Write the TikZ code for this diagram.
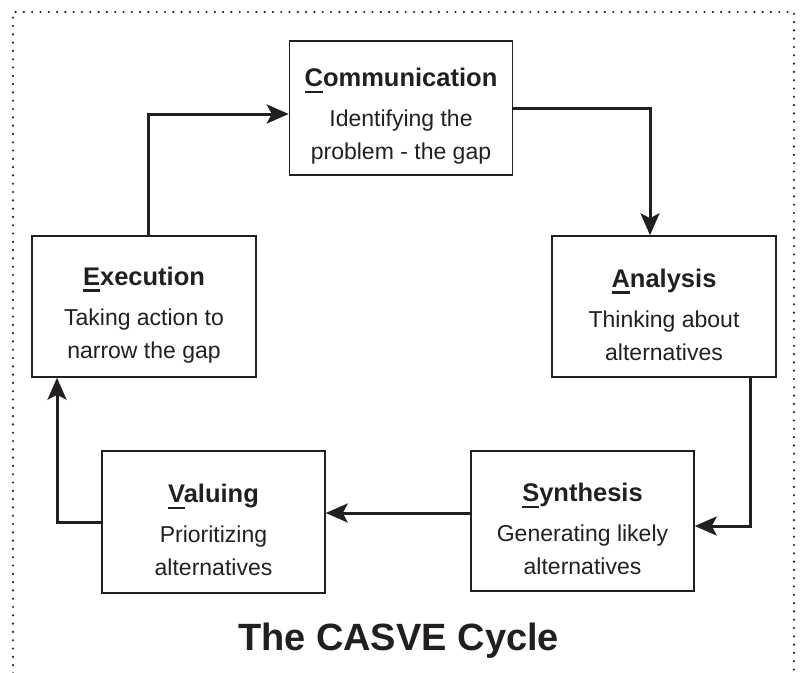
\documentclass[tikz,border=0pt]{standalone}
\usepackage{fontspec}
\setmainfont{Liberation Sans}
\usepackage{xcolor}
\usepackage{tikz}
\usetikzlibrary{positioning,arrows.meta,calc}

\definecolor{ink}{HTML}{231F20}

% first letter of a stage, with a heavy underline
\newcommand{\stageletter}[1]{\setbox0\hbox{#1}\rlap{\rule[-6.5pt]{\wd0}{2.6pt}}#1}
\newcommand{\stage}[3]{{\fontsize{25.5}{30}\selectfont\bfseries\rule{0pt}{35pt}\stageletter{#1}#2}\\[7pt]#3}

\begin{document}
\begin{tikzpicture}[
    x=1pt, y=-1pt,
    color=ink,
    font=\fontsize{23}{33}\selectfont,
    >={Stealth[length=22pt,width=19pt,inset=5pt]},
    stagebox/.style={draw, line width=1.5pt, rectangle, align=center, minimum width=223pt, minimum height=140pt, inner sep=0pt},
    flow/.style={->, line width=3pt},
    frameline/.style={line width=2.4pt, line cap=round, dash pattern=on 0pt off 8.3pt}
]
\useasboundingbox (0,0) rectangle (803,672);

% dotted frame (runs off the bottom)
\draw[frameline] (13,690) -- (13,12) -- (794,12) -- (794,690);

% stages
\node[stagebox, minimum height=134pt] (comm) at (401,108) {\stage{C}{ommunication}{Identifying the\\problem - the gap}};
\node[stagebox, minimum width=224pt, minimum height=141pt] (ana) at (664,306.5) {\stage{A}{nalysis}{Thinking about\\alternatives}};
\node[stagebox] (syn) at (582.5,521) {\stage{S}{ynthesis}{Generating likely\\alternatives}};
\node[stagebox, minimum height=142pt] (val) at (213.5,522) {\stage{V}{aluing}{Prioritizing\\alternatives}};
\node[stagebox, minimum width=224pt, minimum height=141pt] (exe) at (144,306.5) {\stage{E}{xecution}{Taking action to\\narrow the gap}};

% cycle arrows
\draw[flow] ([xshift=4pt]exe.north) |- ([yshift=-6pt]comm.west);
\draw[flow] (comm.east) -| ([xshift=-14pt]ana.north);
\draw[flow] ([xshift=86pt]ana.south) |- ([yshift=-5pt]syn.east);
\draw[flow] ([yshift=8pt]syn.west) -- ([yshift=9pt]val.east);
\draw[flow] (val.west) -| ([xshift=-87pt]exe.south);

% title
\node[anchor=base, font=\fontsize{38}{44}\selectfont\bfseries] (title) at (398.5,650) {The CASVE Cycle};

\end{tikzpicture}
\end{document}
